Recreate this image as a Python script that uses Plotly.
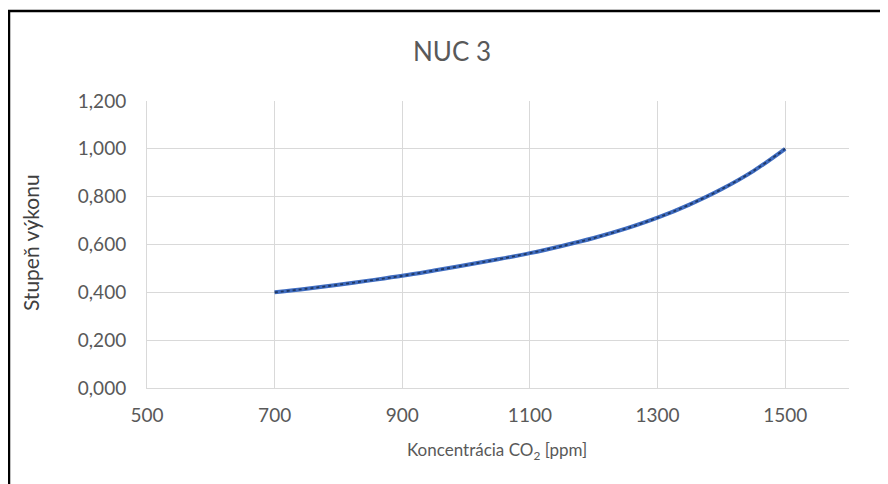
import plotly.graph_objects as go

# Data
co2_ppm = [700, 750, 800, 850, 900, 950, 1000, 1050, 1100, 1150, 1200, 1250, 1300, 1350, 1400, 1450, 1500]
stupen_vykonu = [0.400, 0.415, 0.432, 0.450, 0.469, 0.491, 0.514, 0.538, 0.564, 0.594, 0.627, 0.666,
                 0.712, 0.767, 0.831, 0.907, 1.000]

x_ticks = [500, 700, 900, 1100, 1300, 1500]
y_ticks = [0.0, 0.2, 0.4, 0.6, 0.8, 1.0, 1.2]
y_tick_labels = ["0,000", "0,200", "0,400", "0,600", "0,800", "1,000", "1,200"]

title_text = "NUC 3"
x_title = "Koncentrácia CO<sub>2</sub> [ppm]"
y_title = "Stupeň výkonu"

FONT = "Lato, 'Open Sans', sans-serif"
GREY = "#595959"
GRID = "#D9D9D9"

# page body has an 8px margin -> figure occupies 880x476 of the 888x484 window
W, H = 880, 476
L, R, T, B = 139, 39, 93, 96
PW, PH = W - L - R, H - T - B

fig = go.Figure()
fig.add_trace(go.Scatter(x=co2_ppm, y=stupen_vykonu, mode="lines",
                         line=dict(color="#3F6CC0", width=4, shape="spline"),
                         hoverinfo="skip", showlegend=False))
fig.add_trace(go.Scatter(x=co2_ppm, y=stupen_vykonu, mode="lines",
                         line=dict(color="#1F3864", width=1.8, dash="dot", shape="spline"),
                         showlegend=False))

fig.update_layout(
    width=W, height=H,
    paper_bgcolor="white", plot_bgcolor="white",
    margin=dict(l=L, r=R, t=T, b=B),
    font=dict(family=FONT, color=GREY),
    title=dict(text=title_text, x=444 / W, xanchor="center", y=1 - 44 / H, yanchor="middle",
               font=dict(size=26, color=GREY, family=FONT)),
    shapes=[dict(type="rect", xref="paper", yref="paper",
                 x0=(1 - L) / PW, x1=1.2, y0=-0.6, y1=(H - B - 3) / PH,
                 line=dict(color="black", width=2.5), fillcolor="rgba(0,0,0,0)", layer="above")],
    annotations=[
        dict(text=y_title, xref="paper", yref="paper", x=(22 - L) / PW, y=0.505,
             xanchor="center", yanchor="middle", textangle=-90, showarrow=False,
             font=dict(size=21, color="#404040", family=FONT)),
        dict(text=x_title, xref="paper", yref="paper", x=(489 - L) / PW, y=(H - B - 443) / PH,
             xanchor="center", yanchor="middle", showarrow=False,
             font=dict(size=17, color=GREY, family=FONT)),
    ],
)

fig.update_xaxes(range=[500, 1600], tickvals=x_ticks, ticktext=[str(v) for v in x_ticks],
                 showgrid=True, gridcolor=GRID, gridwidth=1, zeroline=False,
                 showline=True, linecolor=GRID, linewidth=1,
                 tickfont=dict(size=19, color=GREY, family=FONT), ticks="", ticklabelstandoff=10)
fig.update_yaxes(range=[0, 1.2], tickvals=y_ticks, ticktext=y_tick_labels,
                 showgrid=True, gridcolor=GRID, gridwidth=1, zeroline=False,
                 showline=True, linecolor=GRID, linewidth=1,
                 tickfont=dict(size=19, color=GREY, family=FONT), ticks="", ticklabelstandoff=16)

fig.write_html("out.html")
